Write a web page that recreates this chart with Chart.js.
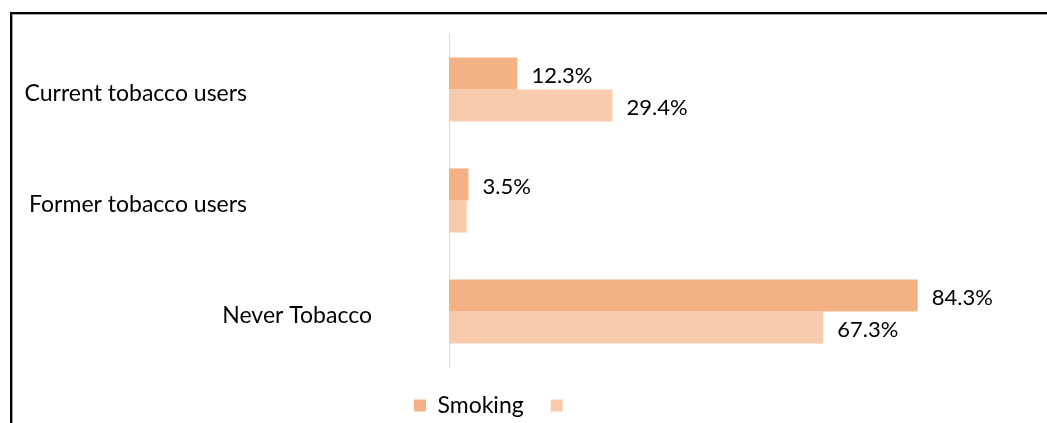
<!DOCTYPE html>
<html>
<head>
<meta charset="utf-8">
<script src="https://cdn.jsdelivr.net/npm/chart.js@4/dist/chart.umd.min.js"></script>
<style>
  html, body { margin: 0; padding: 0; background: #fff; overflow: hidden; width: 1047px; height: 423px; }
  #frame { position: absolute; left: 10px; top: 12px; width: 1100px; height: 460px;
           border-left: 2px solid #000; border-top: 2px solid #000;
           box-shadow: inset 1px 1px 0 #a6a6a6; }
  #c { position: absolute; left: 0; top: 0; }
</style>
</head>
<body>
<div id="frame"><canvas id="c" width="1080" height="440"></canvas></div>
<script>
const categories = ["Current tobacco users", "Former tobacco users", "Never Tobacco"];
const seriesNames = ["Smoking", ""];
const smokingValues = [12.3, 3.5, 84.3];
const secondValues = [29.4, 3.2, 67.3];
const secondShownLabels = [true, false, true];
const smokingShownLabels = [true, true, true];

const FONT = "Lato, 'Open Sans', sans-serif";

const valueLabels = {
  id: 'valueLabels',
  afterDatasetsDraw(chart) {
    const ctx = chart.ctx;
    ctx.save();
    ctx.font = "22px " + FONT;
    ctx.fillStyle = "#000";
    ctx.textAlign = "left";
    ctx.textBaseline = "middle";
    chart.data.datasets.forEach((ds, di) => {
      const meta = chart.getDatasetMeta(di);
      meta.data.forEach((el, i) => {
        if (!ds.showLabels[i]) return;
        ctx.fillText(ds.data[i].toFixed(1) + "%", el.x + 14, el.y + 2);
      });
    });
    ctx.restore();
  }
};

const categoryLabels = {
  id: 'categoryLabels',
  afterDraw(chart) {
    const ctx = chart.ctx;
    const ys = chart.scales.y;
    const rightEdges = [235, 235, 360];
    ctx.save();
    ctx.font = "23px " + FONT;
    ctx.fillStyle = "#000";
    ctx.textAlign = "right";
    ctx.textBaseline = "middle";
    chart.data.labels.forEach((lab, i) => {
      ctx.fillText(lab, rightEdges[i], ys.getPixelForValue(i) + 4);
    });
    ctx.restore();
  }
};

new Chart(document.getElementById('c'), {
  type: 'bar',
  data: {
    labels: categories,
    datasets: [
      { label: seriesNames[0], data: smokingValues, backgroundColor: '#F4B183', showLabels: smokingShownLabels,
        categoryPercentage: 0.577, barPercentage: 1.0 },
      { label: seriesNames[1], data: secondValues, backgroundColor: '#F8CBAD', showLabels: secondShownLabels,
        categoryPercentage: 0.577, barPercentage: 1.0 }
    ]
  },
  options: {
    indexAxis: 'y',
    responsive: false,
    animation: false,
    layout: { padding: { left: 375, right: 87, top: 20, bottom: 27 } },
    scales: {
      x: { display: false, min: 0, max: 100 },
      y: {
        ticks: { display: false },
        grid: { display: false },
        border: { display: true, color: '#d9d9d9', width: 1 },
        afterFit(s) { s.width = 62; }
      }
    },
    plugins: {
      legend: {
        position: 'bottom',
        align: 'start',
        labels: { boxWidth: 12, boxHeight: 12, padding: 27, color: '#000',
                  font: { family: FONT, size: 23 } }
      },
      tooltip: { enabled: false }
    }
  },
  plugins: [valueLabels, categoryLabels]
});
</script>
</body>
</html>
